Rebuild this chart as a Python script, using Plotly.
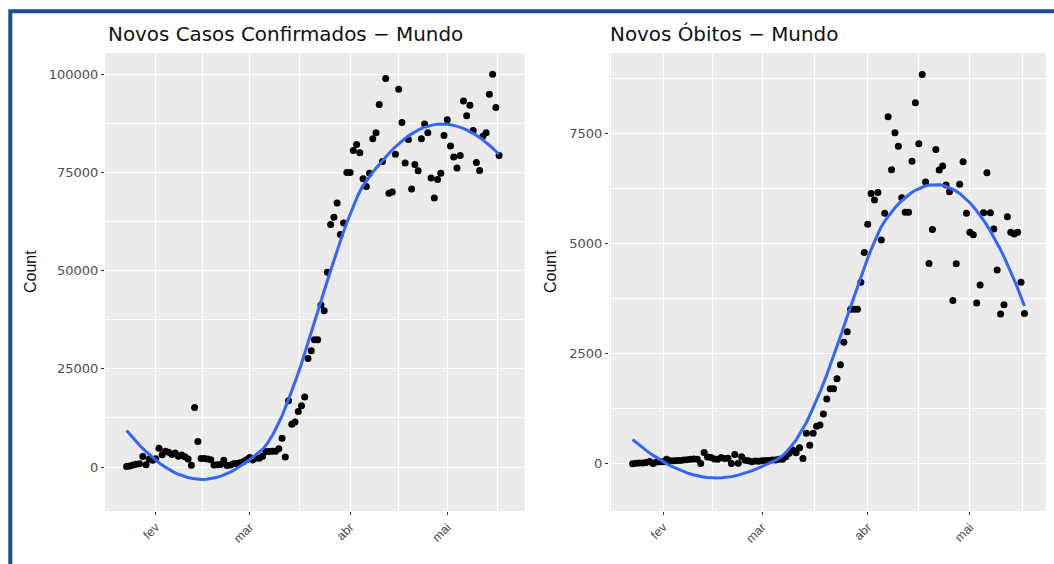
import numpy as np
import pandas as pd
import plotly.graph_objects as go

# ---------------- data ----------------
start_date = "2020-01-23"

cases = [
    # Jan 23 - Jan 31
    99, 287, 493, 684, 809, 2651, 588, 2068, 1693,
    # Feb
    2111, 4749, 3094, 4011, 3743, 3159, 3597, 2729, 3030, 2612, 2037, 419, 15152, 6517,
    2145, 2194, 2034, 1878, 503, 558, 621, 1750, 384, 526, 800, 911, 1106, 1307, 1863,
    # Mar
    2415, 1780, 2286, 2244, 2739, 3958, 3937, 4008, 3985, 4636, 7324, 2555, 16865, 10900,
    11440, 14150, 15600, 17800, 27630, 29580, 32370, 32370, 41270, 39750, 49580, 61750,
    63600, 67200, 59200, 62100, 75000,
    # Apr
    75000, 80600, 82100, 80000, 73400, 71400, 74800, 83600, 85100, 92300, 77800, 98900,
    69700, 70000, 79600, 96200, 87700, 77400, 83400, 70800, 77000, 75400, 83600, 87300,
    85100, 73600, 68500, 73200, 74800, 84400,
    # May 1 - May 17
    88400, 81700, 78900, 76100, 79300, 93200, 89400, 92100, 85700, 77500, 75500, 84200,
    85100, 94900, 100000, 91500, 79300,
]

deaths = [
    # Jan 23 - Jan 31
    1, 8, 16, 14, 26, 49, 2, 38, 42,
    # Feb
    46, 103, 64, 66, 72, 70, 85, 87, 100, 107, 100, 5, 253, 152, 143, 104, 98, 139, 115,
    125, 4, 207, 11, 160, 80, 64, 42, 61, 54,
    # Mar
    66, 72, 70, 81, 81, 100, 101, 160, 235, 310, 250, 360, 120, 690, 420, 690, 850, 880,
    1130, 1470, 1700, 1700, 1930, 2250, 2760, 3000, 3510, 3510, 3510, 4120, 4800,
    # Apr
    5440, 6140, 5990, 6160, 5080, 5690, 7880, 6680, 7520, 7210, 6040, 5710, 5710, 6870,
    8200, 7270, 8840, 6400, 4550, 5320, 7140, 6670, 6760, 6330, 6180, 3710, 4540, 6350,
    6860, 5690,
    # May 1 - May 17
    5260, 5200, 3650, 4060, 5700, 6610, 5700, 5330, 4400, 3400, 3610, 5610, 5260, 5220,
    5260, 4120, 3410,
]

month_ticks = ["2020-02-01", "2020-03-01", "2020-04-01", "2020-05-01"]
month_labels = ["fev", "mar", "abr", "mai"]

cases_ticks = [0, 25000, 50000, 75000, 100000]
deaths_ticks = [0, 2500, 5000, 7500]

title_cases = "Novos Casos Confirmados \u2212 Mundo"
title_deaths = "Novos \u00d3bitos \u2212 Mundo"
y_title = "Count"

dates = pd.date_range(start_date, periods=len(cases), freq="D")


# ---------------- loess smooth (like geom_smooth default) ----------------
def loess(x, y, xs, span=0.75):
    x = np.asarray(x, float)
    y = np.asarray(y, float)
    n = len(x)
    q = int(np.floor(n * span))
    out = []
    for x0 in xs:
        d = np.abs(x - x0)
        h = np.sort(d)[q - 1]
        w = np.clip(1 - (d / h) ** 3, 0, None) ** 3
        X = np.vstack([np.ones(n), x - x0, (x - x0) ** 2]).T
        sw = np.sqrt(w)
        beta = np.linalg.lstsq(X * sw[:, None], y * sw, rcond=None)[0]
        out.append(beta[0])
    return np.array(out)


xnum = (dates - dates[0]).days.values.astype(float)
xs = np.linspace(xnum.min(), xnum.max(), 80)
xs_dates = dates[0] + pd.to_timedelta(xs, unit="D")
smooth_cases = loess(xnum, cases, xs)
smooth_deaths = loess(xnum, deaths, xs)

# ---------------- figure ----------------
W, H = 1054, 564
BLUE = "#3366FF"
GRID = "#FFFFFF"
BG = "#EBEBEB"
TICKC = "#4D4D4D"


def px_x(p):
    return p / W


def px_y(p):
    return 1 - p / H


fig = go.Figure()
fig.add_trace(go.Scatter(x=dates, y=cases, mode="markers",
                         marker=dict(color="black", size=7, line=dict(width=0)),
                         xaxis="x", yaxis="y", hoverinfo="skip"))
fig.add_trace(go.Scatter(x=xs_dates, y=smooth_cases, mode="lines",
                         line=dict(color=BLUE, width=3),
                         xaxis="x", yaxis="y", hoverinfo="skip"))
fig.add_trace(go.Scatter(x=dates, y=deaths, mode="markers",
                         marker=dict(color="black", size=7, line=dict(width=0)),
                         xaxis="x2", yaxis="y2", hoverinfo="skip"))
fig.add_trace(go.Scatter(x=xs_dates, y=smooth_deaths, mode="lines",
                         line=dict(color=BLUE, width=3),
                         xaxis="x2", yaxis="y2", hoverinfo="skip"))


def mids(vals):
    v = np.asarray(vals, float)
    step = v[1] - v[0]
    out = list((v[:-1] + v[1:]) / 2)
    return [v[0] - step / 2] + out + [v[-1] + step / 2]


month_minor = ["2020-01-16 12:00", "2020-02-15 12:00", "2020-03-16 12:00",
               "2020-04-16 00:00", "2020-05-16 12:00"]

xcommon = dict(
    type="date", tickmode="array", tickvals=month_ticks, ticktext=month_labels,
    tickangle=-45, ticks="outside", ticklen=3, tickwidth=1.1, tickcolor="#333333",
    tickfont=dict(family="Liberation Sans, Arial, sans-serif", size=12.5, color=TICKC),
    showgrid=True, gridcolor=GRID, gridwidth=1.3, zeroline=False, showline=False,
    minor=dict(tickmode="array", tickvals=month_minor, showgrid=True,
               gridcolor=GRID, gridwidth=0.6, ticks=""),
)
ycommon = dict(
    tickmode="array", ticks="outside", ticklen=3, tickwidth=1.1, tickcolor="#333333",
    tickfont=dict(family="DejaVu Sans, sans-serif", size=13, color=TICKC),
    showgrid=True, gridcolor=GRID, gridwidth=1.3, zeroline=False, showline=False,
)

fig.update_layout(
    width=W, height=H, margin=dict(l=0, r=0, t=0, b=0),
    paper_bgcolor="white", plot_bgcolor=BG, showlegend=False,
    xaxis=dict(xcommon, domain=[px_x(105), px_x(525)], anchor="y",
               range=["2020-01-16 08:00", "2020-05-25 00:00"]),
    xaxis2=dict(xcommon, domain=[px_x(609), px_x(1046)], anchor="y2",
                range=["2020-01-16 02:00", "2020-05-23 08:00"]),
    yaxis=dict(ycommon, domain=[px_y(511), px_y(53)], anchor="x",
               range=[-11200, 105400], tickvals=cases_ticks,
               ticktext=[str(v) for v in cases_ticks],
               minor=dict(tickmode="array", tickvals=mids(cases_ticks), showgrid=True,
                          gridcolor=GRID, gridwidth=0.6, ticks="")),
    yaxis2=dict(ycommon, domain=[px_y(511), px_y(53)], anchor="x2",
                range=[-1075, 9330], tickvals=deaths_ticks,
                ticktext=[str(v) for v in deaths_ticks],
                minor=dict(tickmode="array", tickvals=mids(deaths_ticks), showgrid=True,
                           gridcolor=GRID, gridwidth=0.6, ticks="")),
)

TITLE_FONT = dict(family="DejaVu Sans, sans-serif", size=19.9, color="#111111")
fig.add_annotation(text=title_cases, xref="paper", yref="paper",
                   x=px_x(106), y=px_y(34), xanchor="left", yanchor="middle",
                   showarrow=False, font=TITLE_FONT)
fig.add_annotation(text=title_deaths, xref="paper", yref="paper",
                   x=px_x(608), y=px_y(34), xanchor="left", yanchor="middle",
                   showarrow=False, font=TITLE_FONT)
for xc in (30, 550):
    fig.add_annotation(text=y_title, xref="paper", yref="paper",
                       x=px_x(xc), y=px_y(272), xanchor="center", yanchor="middle",
                       textangle=-90, showarrow=False,
                       font=dict(family="Liberation Sans, Arial, sans-serif",
                                 size=16, color="#111111"))

# blue frame around the image
fig.add_shape(type="rect", xref="paper", yref="paper",
              x0=px_x(10.3), x1=1.05, y0=-0.05, y1=px_y(11.3),
              line=dict(color="#1B4F8C", width=4), fillcolor="rgba(0,0,0,0)", layer="above")

fig.write_html("out.html")
